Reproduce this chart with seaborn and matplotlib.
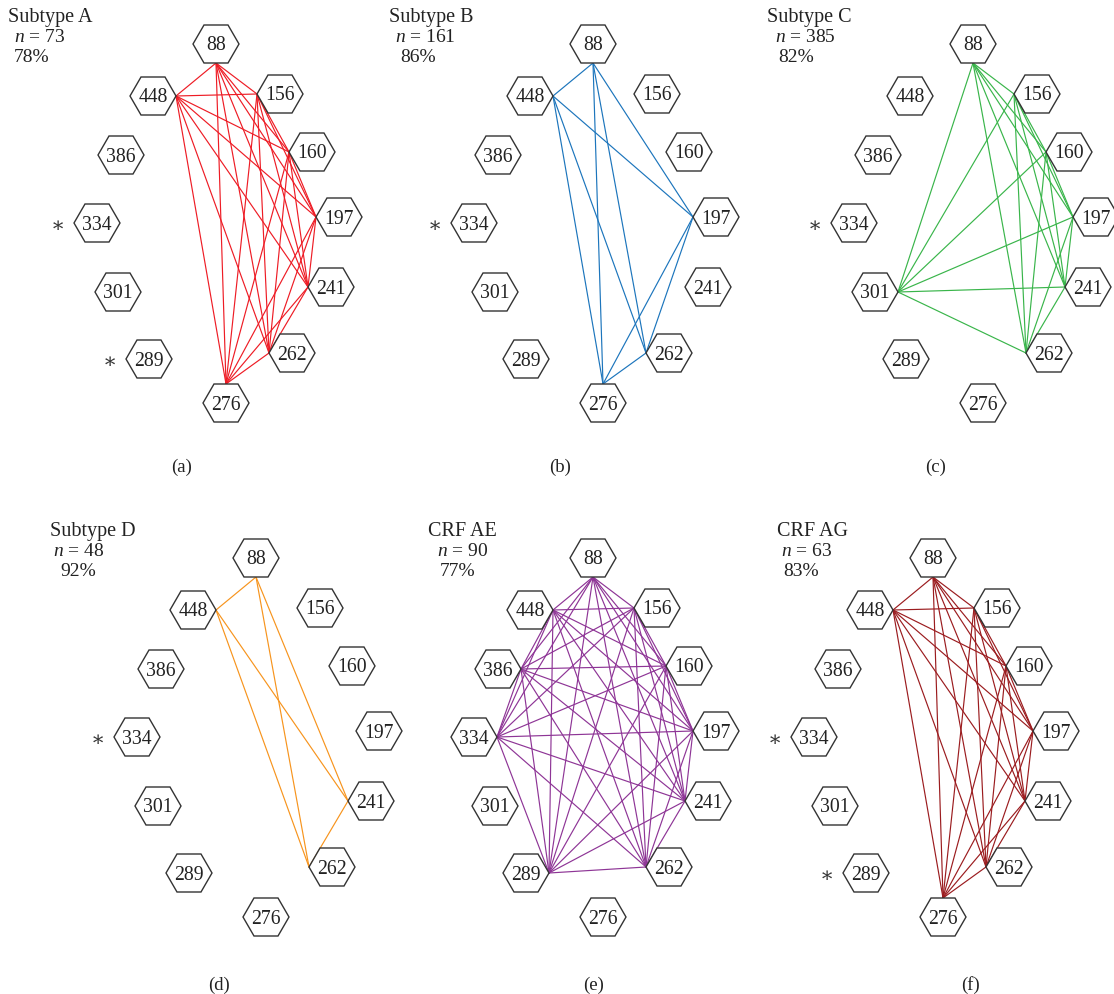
import itertools

import matplotlib
matplotlib.use("Agg")
import matplotlib.pyplot as plt
from matplotlib.patches import Polygon
import pandas as pd
import seaborn as sns

sns.set_style("white")
plt.rcParams["font.family"] = ["Liberation Serif", "DejaVu Serif"]
plt.rcParams["mathtext.fontset"] = "custom"
plt.rcParams["mathtext.rm"] = "Liberation Serif"
plt.rcParams["mathtext.it"] = "Liberation Serif:italic"

# ---------------------------------------------------------------- data
panel_tags = ["(a)", "(b)", "(c)", "(d)", "(e)", "(f)"]
panel_titles = ["Subtype A", "Subtype B", "Subtype C", "Subtype D", "CRF AE", "CRF AG"]
sample_sizes = [73, 161, 385, 48, 90, 63]
linked_pct = [78, 86, 82, 92, 77, 83]

site_labels = [88, 156, 160, 197, 241, 262, 276, 289, 301, 334, 386, 448]

# sites that are all mutually linked in each panel
linked_sites = [
    [88, 448, 156, 160, 197, 241, 262, 276],
    [88, 448, 197, 262, 276],
    [88, 156, 160, 197, 241, 262, 301],
    [88, 448, 241, 262],
    [88, 448, 156, 386, 160, 334, 197, 241, 289, 262],
    [88, 448, 156, 160, 197, 241, 262, 276],
]
starred_sites = [[334, 289], [334], [334], [334], [], [334, 289]]
line_colors = ["#ee1c25", "#1c75bc", "#39b54a", "#f7941d", "#8e3596", "#9b1c1f"]

# ---------------------------------------------------------------- layout
fig_w, fig_h = 1114, 995
site_xy = {
    88: (216, 45), 156: (280, 95), 160: (312, 153), 197: (339, 218),
    241: (331, 288), 262: (292, 354), 276: (226, 404), 289: (149, 360),
    301: (118, 293), 334: (97, 224), 386: (121, 156), 448: (153, 97),
}
# where edges attach on each hexagon
anchor_offset = {
    88: (0, 19), 276: (0, -19),
    448: (23, 0), 386: (23, 0), 334: (23, 0), 301: (23, 0), 289: (23, 0),
    156: (-23, 0), 160: (-23, 0), 197: (-23, 0), 241: (-23, 0), 262: (-23, 0),
}
panel_origin = [(0, 0), (377, 0), (757, 0), (40, 514), (377, 514), (717, 514)]
title_x = [(8, 14, 14), (389, 395, 400), (767, 775, 778),
           (50, 53, 60), (428, 437, 440), (777, 781, 783)]
title_base = [22, 42, 62]
tag_xy = [(182, 467), (560, 467), (936, 467), (219, 985), (594, 985), (970, 985)]
hex_shape = [(-23, 0), (-12, -19), (12, -19), (23, 0), (12, 19), (-12, 19)]

fig = plt.figure(figsize=(fig_w / 100, fig_h / 100), dpi=100)
ax = fig.add_axes([0, 0, 1, 1])

for p in range(6):
    ox, oy = panel_origin[p]

    # links between every pair of sites in the panel
    rows = []
    for k, (s1, s2) in enumerate(itertools.combinations(linked_sites[p], 2)):
        for s in (s1, s2):
            rows.append({
                "edge": k,
                "x": ox + site_xy[s][0] + anchor_offset[s][0],
                "y": oy + site_xy[s][1] + anchor_offset[s][1],
            })
    edges = pd.DataFrame(rows)
    sns.lineplot(data=edges, x="x", y="y", units="edge", estimator=None,
                 sort=False, color=line_colors[p], lw=0.85, ax=ax,
                 legend=False, zorder=2)

    # hexagonal site markers
    for s in site_labels:
        cx, cy = ox + site_xy[s][0], oy + site_xy[s][1]
        ax.add_patch(Polygon([(cx + dx, cy + dy) for dx, dy in hex_shape],
                             closed=True, facecolor="white",
                             edgecolor="#333333", lw=1.0, zorder=3))
        ax.text(cx, cy + 1, str(s), ha="center", va="center",
                fontsize=14.2, color="#222222", zorder=4)

    for s in starred_sites[p]:
        cx, cy = ox + site_xy[s][0], oy + site_xy[s][1]
        ax.text(cx - 39, cy + 3, "\u2217", ha="center", va="center",
                fontsize=15, color="#333333",
                family=["DejaVu Serif", "DejaVu Sans"])

    # headline: group, sample size, percentage
    tx = title_x[p]
    ax.text(tx[0], oy + title_base[0], panel_titles[p], ha="left",
            va="baseline", fontsize=14.5, color="#222222")
    ax.text(tx[1], oy + title_base[1], f"$n$ = {sample_sizes[p]}", ha="left",
            va="baseline", fontsize=14, color="#222222")
    ax.text(tx[2], oy + title_base[2], f"{linked_pct[p]}%", ha="left",
            va="baseline", fontsize=14, color="#222222")

    ax.text(tag_xy[p][0], tag_xy[p][1], panel_tags[p], ha="center",
            va="center", fontsize=13.5, color="#222222")

ax.set_xlim(0, fig_w)
ax.set_ylim(fig_h, 0)
ax.set_xlabel("")
ax.set_ylabel("")
ax.axis("off")

fig.savefig("out.png", dpi=100, facecolor="white")
